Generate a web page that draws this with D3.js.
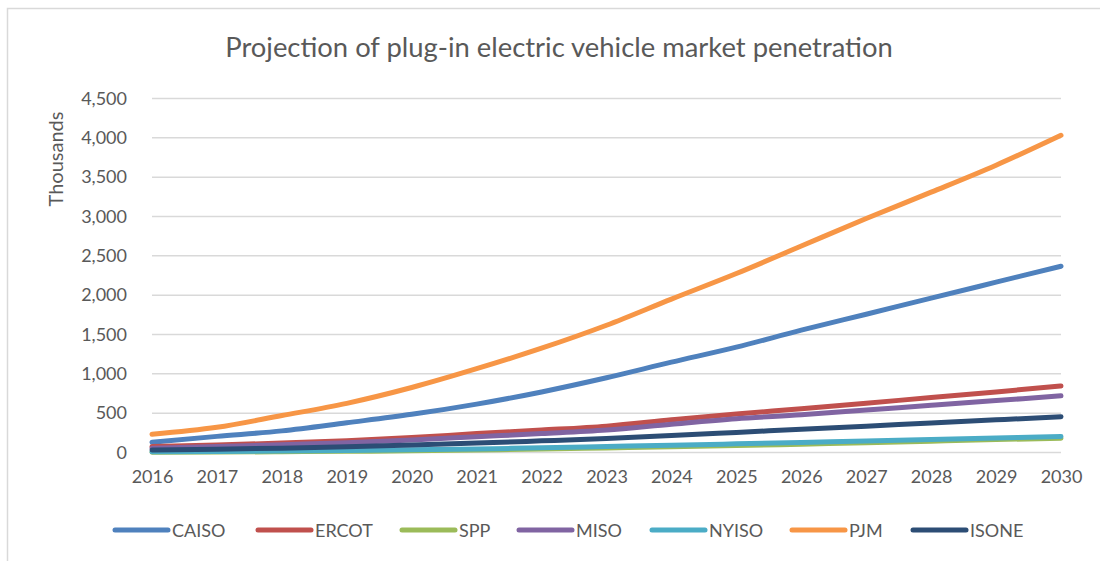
<!DOCTYPE html>
<html>
<head>
<meta charset="utf-8">
<script src="https://cdn.jsdelivr.net/npm/d3@7"></script>
<style>
  body { margin: 0; background: #fff; }
  text { font-family: Lato, "Open Sans", sans-serif; fill: #595959; }
</style>
</head>
<body>
<div id="chart"></div>
<script>
var years = [2016, 2017, 2018, 2019, 2020, 2021, 2022, 2023, 2024, 2025, 2026, 2027, 2028, 2029, 2030];

var CAISO = [131, 205, 275, 378, 485, 615, 770, 950, 1148, 1339, 1555, 1758, 1962, 2165, 2368];
var ERCOT = [75, 95, 120, 150, 190, 240, 285, 335, 415, 490, 555, 625, 700, 770, 846];
var SPP   = [2, 5, 10, 15, 22, 32, 44, 58, 72, 88, 106, 124, 144, 164, 182];
var MISO  = [55, 75, 100, 125, 160, 200, 240, 285, 360, 430, 480, 540, 600, 660, 720];
var NYISO = [8, 12, 18, 25, 34, 45, 60, 76, 92, 110, 128, 146, 165, 184, 203];
var PJM   = [232, 320, 470, 625, 826, 1065, 1326, 1618, 1950, 2275, 2625, 2975, 3309, 3652, 4033];
var ISONE = [32, 42, 55, 72, 95, 120, 148, 178, 215, 255, 295, 335, 375, 415, 455];

var seriesNames = ["CAISO", "ERCOT", "SPP", "MISO", "NYISO", "PJM", "ISONE"];
var seriesValues = [CAISO, ERCOT, SPP, MISO, NYISO, PJM, ISONE];
var colors = ["#4f81bd", "#c0504d", "#9bbb59", "#8064a2", "#4bacc6", "#f79646", "#2c4d75"];

var yTicks = [0, 500, 1000, 1500, 2000, 2500, 3000, 3500, 4000, 4500];

var W = 1100, H = 561;
var plotLeft = 152, plotRight = 1061, plotTop = 98.5, plotBottom = 452.5;

var svg = d3.select("#chart").append("svg")
    .attr("width", W)
    .attr("height", H);

// chart border
svg.append("rect")
    .attr("x", 7.5).attr("y", 8.5)
    .attr("width", 1200).attr("height", 700)
    .attr("fill", "none")
    .attr("stroke", "#d9d9d9")
    .attr("stroke-width", 1.5);

var x = d3.scaleLinear().domain([2016, 2030]).range([plotLeft, plotRight]);
var y = d3.scaleLinear().domain([0, 4500]).range([plotBottom, plotTop]);

// gridlines
svg.append("g").selectAll("line")
    .data(yTicks)
    .enter().append("line")
    .attr("x1", plotLeft).attr("x2", plotRight)
    .attr("y1", function(d){ return y(d); })
    .attr("y2", function(d){ return y(d); })
    .attr("stroke", "#d9d9d9")
    .attr("stroke-width", 1.5);

// y axis labels
var yAxis = d3.axisLeft(y).tickValues(yTicks).tickFormat(d3.format(",")).tickSize(0).tickPadding(0);
var gY = svg.append("g")
    .attr("transform", "translate(127,0)")
    .call(yAxis);
gY.select(".domain").remove();
gY.selectAll("text")
    .style("font-size", "18px")
    .style("font-family", "Lato, sans-serif")
    .attr("fill", "#595959");

// x axis labels
var xAxis = d3.axisBottom(x).tickValues(years).tickFormat(d3.format("d")).tickSize(0).tickPadding(0);
var gX = svg.append("g")
    .attr("transform", "translate(0,470)")
    .call(xAxis);
gX.select(".domain").remove();
gX.selectAll("text")
    .style("font-size", "18px")
    .style("font-family", "Lato, sans-serif")
    .attr("fill", "#595959");

// lines
var line = d3.line()
    .x(function(d, i){ return x(years[i]); })
    .y(function(d){ return y(d); })
    .curve(d3.curveMonotoneX);

svg.append("g").selectAll("path")
    .data(seriesValues)
    .enter().append("path")
    .attr("d", line)
    .attr("fill", "none")
    .attr("stroke", function(d, i){ return colors[i]; })
    .attr("stroke-width", 5)
    .attr("stroke-linecap", "round")
    .attr("stroke-linejoin", "round");

// title
svg.append("text")
    .attr("x", 559)
    .attr("y", 57)
    .attr("text-anchor", "middle")
    .style("font-size", "27.4px")
    .text("Projection of plug-in electric vehicle market penetration");

// y title
svg.append("text")
    .attr("transform", "translate(63,159) rotate(-90)")
    .attr("text-anchor", "middle")
    .style("font-size", "20px")
    .text("Thousands");

// legend
var legendX = [113, 256, 400, 517, 650, 790, 911];
var lg = svg.append("g").selectAll("g")
    .data(seriesNames)
    .enter().append("g")
    .attr("transform", function(d, i){ return "translate(" + legendX[i] + ",530)"; });
lg.append("line")
    .attr("x1", 2).attr("x2", 55)
    .attr("y1", 0).attr("y2", 0)
    .attr("stroke", function(d, i){ return colors[i]; })
    .attr("stroke-width", 5)
    .attr("stroke-linecap", "round");
lg.append("text")
    .attr("x", 59)
    .attr("y", 6.5)
    .style("font-size", "18px")
    .text(function(d){ return d; });
</script>
</body>
</html>
